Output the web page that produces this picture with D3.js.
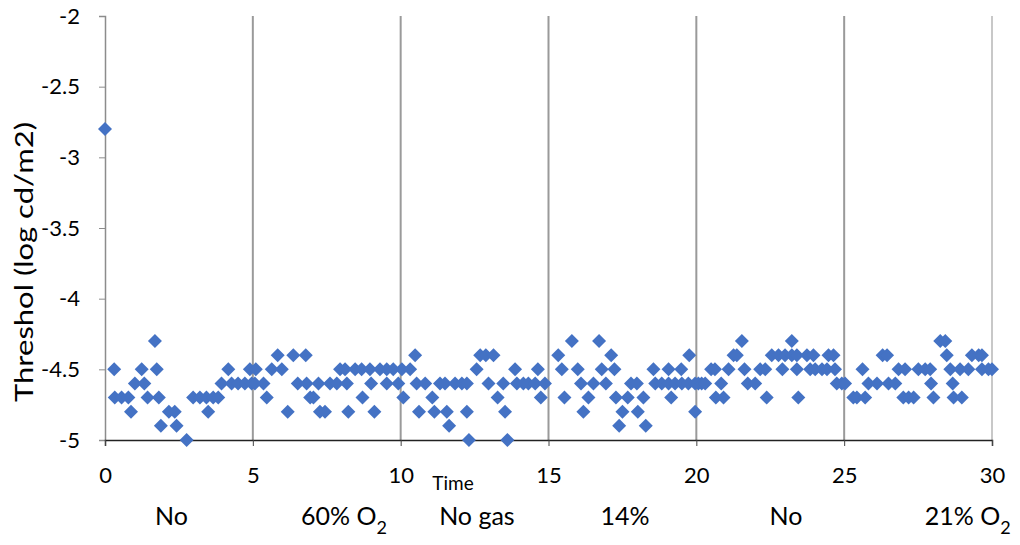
<!DOCTYPE html>
<html>
<head>
<meta charset="utf-8">
<script src="https://cdn.jsdelivr.net/npm/d3@7"></script>
<style>
  html, body { margin: 0; padding: 0; background: #fff; }
  svg text { font-family: Lato, "Open Sans", "Liberation Sans", sans-serif; fill: #000; }
</style>
</head>
<body>
<div id="chart"></div>
<script>
/* threshold scatter: time (min) vs threshold (log cd/m2) */

// sample times
const TIMES = [
  0.00, 0.31, 0.33, 0.56, 0.79, 0.88, 1.01, 1.24, 1.33, 1.44, 1.69, 1.75, 1.82, 1.89,
  2.16, 2.36, 2.42, 2.76, 2.98, 3.21, 3.43, 3.49, 3.66, 3.83, 3.94, 4.17, 4.28, 4.50,
  4.73, 4.90, 4.96, 5.10, 5.07, 5.36, 5.47, 5.64, 5.84, 5.98, 6.18, 6.37, 6.52, 6.79,
  6.82, 6.94, 7.05, 7.22, 7.27, 7.44, 7.61, 7.84, 7.95, 8.12, 8.18, 8.23, 8.46, 8.68,
  8.71, 8.96, 9.00, 9.11, 9.30, 9.53, 9.53, 9.75, 9.92, 10.04, 10.09, 10.32, 10.49,
  10.54, 10.62, 10.83, 11.07, 11.14, 11.33, 11.50, 11.56, 11.64, 11.84, 12.07, 12.24,
  12.24, 12.31, 12.57, 12.69, 12.88, 12.97, 13.14, 13.28, 13.47, 13.53, 13.61, 13.87,
  13.93, 14.15, 14.32, 14.55, 14.64, 14.74, 14.88, 15.33, 15.45, 15.54, 15.79, 15.99,
  16.10, 16.18, 16.35, 16.52, 16.71, 16.80, 16.94, 17.12, 17.23, 17.28, 17.39, 17.50,
  17.68, 17.79, 17.99, 18.02, 18.21, 18.29, 18.55, 18.61, 18.83, 19.06, 19.06, 19.15,
  19.28, 19.49, 19.51, 19.73, 19.76, 19.96, 19.96, 20.07, 20.18, 20.30, 20.50, 20.63,
  20.66, 20.84, 20.92, 21.09, 21.26, 21.37, 21.54, 21.63, 21.74, 21.99, 22.16, 22.33,
  22.38, 22.55, 22.78, 22.91, 23.00, 23.23, 23.23, 23.40, 23.40, 23.45, 23.74, 23.85,
  23.96, 24.02, 24.25, 24.42, 24.47, 24.64, 24.69, 24.75, 24.92, 25.03, 25.31, 25.43,
  25.62, 25.71, 25.82, 26.11, 26.30, 26.45, 26.50, 26.73, 26.84, 27.00, 27.06, 27.18,
  27.35, 27.51, 27.74, 27.91, 27.94, 28.02, 28.25, 28.42, 28.47, 28.59, 28.67, 28.70,
  28.92, 28.98, 29.20, 29.32, 29.55, 29.66, 29.66, 29.88, 30.00
];
const THRESHOLDS = [
  -2.8, -4.5, -4.7, -4.7, -4.7, -4.8, -4.6, -4.5, -4.6, -4.7, -4.3, -4.5, -4.7, -4.9,
  -4.8, -4.8, -4.9, -5.0, -4.7, -4.7, -4.7, -4.8, -4.7, -4.7, -4.6, -4.5, -4.6, -4.6,
  -4.6, -4.5, -4.6, -4.5, -4.6, -4.6, -4.7, -4.5, -4.4, -4.5, -4.8, -4.4, -4.6, -4.4,
  -4.6, -4.7, -4.7, -4.6, -4.8, -4.8, -4.6, -4.6, -4.5, -4.5, -4.6, -4.8, -4.5, -4.5,
  -4.7, -4.5, -4.6, -4.8, -4.5, -4.5, -4.6, -4.5, -4.6, -4.5, -4.7, -4.5, -4.4,
  -4.6, -4.8, -4.6, -4.7, -4.8, -4.6, -4.6, -4.8, -4.9, -4.6, -4.6, -4.6,
  -4.8, -5.0, -4.5, -4.4, -4.4, -4.6, -4.4, -4.7, -4.6, -4.8, -5.0, -4.5,
  -4.6, -4.6, -4.6, -4.6, -4.5, -4.7, -4.6, -4.4, -4.5, -4.7, -4.3, -4.5,
  -4.6, -4.8, -4.7, -4.6, -4.3, -4.5, -4.6, -4.4, -4.5, -4.7, -4.9, -4.8,
  -4.7, -4.6, -4.6, -4.8, -4.7, -4.9, -4.5, -4.6, -4.6, -4.5, -4.6, -4.7,
  -4.6, -4.5, -4.6, -4.6, -4.4, -4.8, -4.6, -4.6, -4.6, -4.6, -4.5, -4.5,
  -4.7, -4.6, -4.7, -4.5, -4.4, -4.4, -4.3, -4.5, -4.6, -4.6, -4.5, -4.5,
  -4.7, -4.4, -4.4, -4.5, -4.4, -4.4, -4.3, -4.4, -4.5, -4.7, -4.4, -4.5,
  -4.4, -4.5, -4.5, -4.5, -4.4, -4.4, -4.5, -4.6, -4.6, -4.6, -4.7, -4.7,
  -4.5, -4.7, -4.6, -4.6, -4.4, -4.4, -4.6, -4.6, -4.5, -4.7, -4.5, -4.7,
  -4.7, -4.5, -4.5, -4.5, -4.6, -4.7, -4.3, -4.3, -4.4, -4.5, -4.6, -4.7,
  -4.5, -4.7, -4.5, -4.4, -4.4, -4.4, -4.5, -4.5, -4.5
];

const X_TICKS = [0, 5, 10, 15, 20, 25, 30];
const Y_TICKS = [-2, -2.5, -3, -3.5, -4, -4.5, -5];
const GRID_X = [5, 10, 15, 20, 25, 30];

// condition labels under the axis: [text, subscript, time centre]
const PHASES = [
  ["No", "", 2.25],
  ["60% O", "2", 8.08],
  ["No gas", "", 12.58],
  ["14%", "", 17.59],
  ["No", "", 23.03],
  ["21% O", "2", 29.18]
];

const W = 1020, H = 545;
const M = {top: 16, right: 28, bottom: 105, left: 105};

const svg = d3.select("#chart").append("svg")
  .attr("width", W).attr("height", H);

const x = d3.scaleLinear().domain([0, 30]).range([M.left, W - M.right]);
const y = d3.scaleLinear().domain([-5, -2]).range([H - M.bottom, M.top]);

// vertical grid lines
svg.append("g").selectAll("line")
  .data(GRID_X).join("line")
  .attr("x1", d => x(d)).attr("x2", d => x(d))
  .attr("y1", y(-2)).attr("y2", y(-5))
  .attr("stroke", d => d === 30 ? "#c8c8c8" : "#9a9a9a")
  .attr("stroke-width", 2);

// y axis
const yAxis = svg.append("g")
  .attr("transform", `translate(${x(0)},0)`)
  .call(d3.axisLeft(y).tickValues(Y_TICKS).tickSize(6).tickPadding(19)
    .tickFormat(d => String(d)));
yAxis.select(".domain").attr("stroke", "#8c8c8c").attr("stroke-width", 1.5);
yAxis.selectAll(".tick line").attr("stroke", "#8c8c8c");
yAxis.selectAll("text").style("font-size", "22px").attr("fill", "#000");

// x axis
const xAxis = svg.append("g")
  .attr("transform", `translate(0,${y(-5)})`)
  .call(d3.axisBottom(x).tickValues(X_TICKS).tickSize(6).tickPadding(21)
    .tickFormat(d => String(d)));
xAxis.select(".domain").attr("stroke", "#222").attr("stroke-width", 1.5);
xAxis.selectAll(".tick line").attr("stroke", "#444");
xAxis.selectAll("text").style("font-size", "22px").attr("fill", "#000");

// axis titles
svg.append("text")
  .attr("transform", `translate(33,262) rotate(-90)`)
  .attr("text-anchor", "middle")
  .attr("textLength", 280)
  .attr("lengthAdjust", "spacingAndGlyphs")
  .style("font-size", "25px")
  .text("Threshol (log cd/m2)");

svg.append("text")
  .attr("x", 453).attr("y", 490)
  .attr("text-anchor", "middle")
  .style("font-size", "19px")
  .text("Time");

// phase labels
const ph = svg.append("g").selectAll("text")
  .data(PHASES).join("text")
  .attr("x", d => x(d[2]))
  .attr("y", 525)
  .attr("text-anchor", "middle")
  .style("font-size", "25px");
ph.append("tspan").text(d => d[0]);
ph.filter(d => d[1]).append("tspan")
  .attr("dy", 9)
  .style("font-size", "18px")
  .text(d => d[1]);

// data markers (Excel style diamonds)
const pts = TIMES.map((t, i) => ({t, v: THRESHOLDS[i]}));
const sym = d3.symbol().type(d3.symbolSquare).size(98);
svg.append("g").selectAll("path")
  .data(pts).join("path")
  .attr("d", sym)
  .attr("transform", d => `translate(${x(d.t)},${y(d.v)}) rotate(45)`)
  .attr("fill", "#4472c4");
</script>
</body>
</html>
